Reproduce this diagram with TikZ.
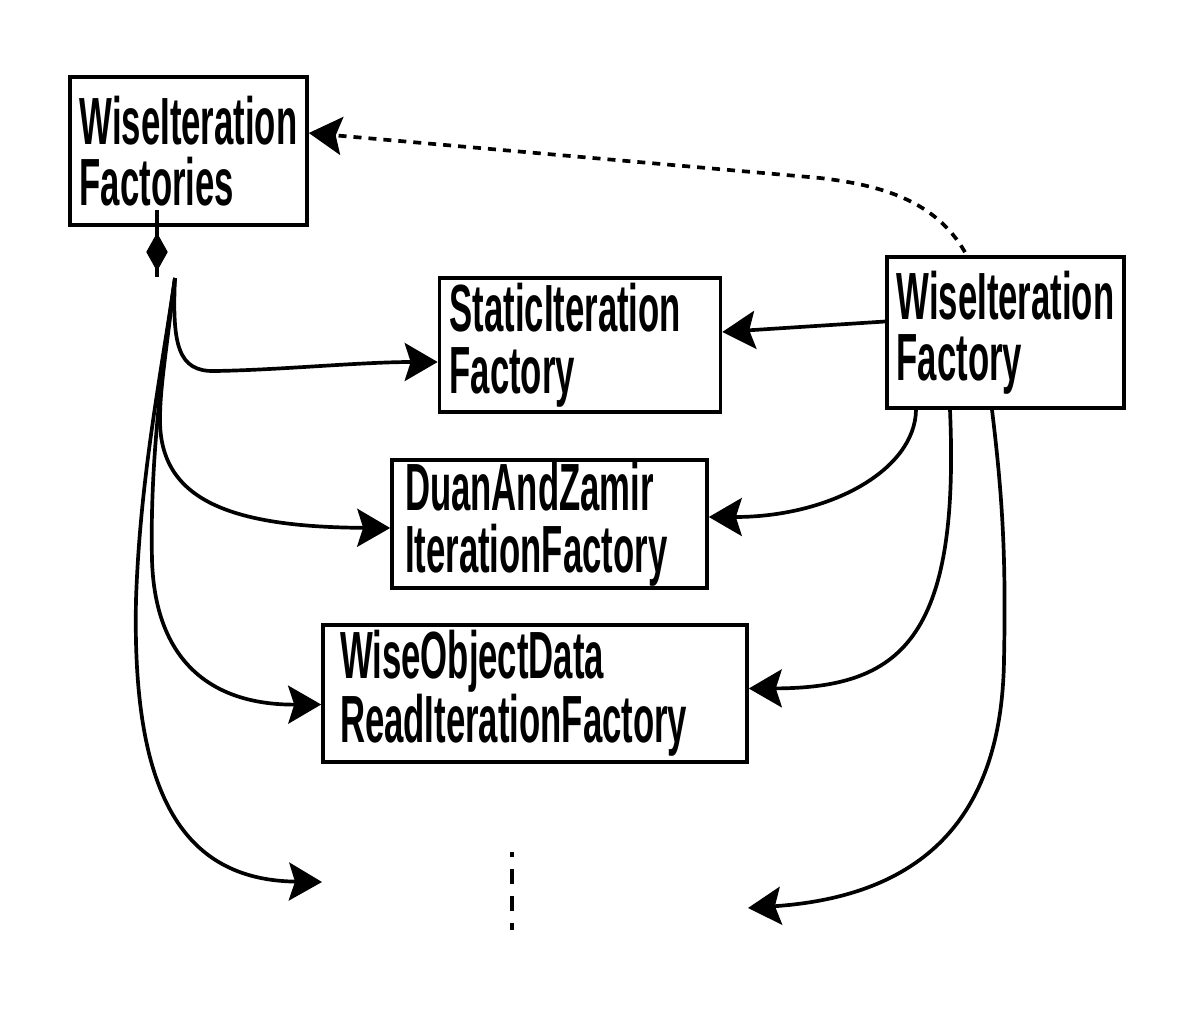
\documentclass[tikz,border=0pt]{standalone}
\usepackage{fontspec}
\usepackage{tikz}
\usetikzlibrary{shapes.geometric, arrows.meta, calc}
\newfontfamily\boxfont{Liberation Sans}[FakeStretch=0.52]

\begin{document}
\begin{tikzpicture}[
    x=0.02cm, y=-0.02cm,
    line width=2.1pt,
    classbox/.style={rectangle, draw=black, fill=white, align=left, inner sep=0pt, font=\boxfont\bfseries\fontsize{38pt}{35pt}\selectfont},
    agg/.style={diamond, fill=black, draw=none, inner sep=0pt, minimum width=0.46cm, minimum height=0.8cm},
    arrow/.style={-{Stealth[length=0.66cm, width=0.76cm, inset=0.12cm]}, line width=2.1pt},
    dotarrow/.style={arrow, dash pattern=on 0.16cm off 0.14cm},
    ellipsis/.style={line width=2.6pt, dash pattern=on 0.3cm off 0.24cm, dash phase=0.2cm}
]
    \useasboundingbox (0,0) rectangle (1194,1011);

    % Klassen
    \node[classbox, minimum width=4.74cm, minimum height=2.96cm] (factories) at (188.5,151) {WiseIteration\\Factories};
    \node[classbox, minimum width=5.62cm, minimum height=2.68cm, text width=5.22cm] (staticfac) at (580,345) {StaticIteration\\Factory};
    \node[classbox, minimum width=6.30cm, minimum height=2.56cm, text width=5.78cm] (duanfac) at (549.5,524) {DuanAndZamir\\IterationFactory};
    \node[classbox, minimum width=8.48cm, minimum height=2.74cm, text width=7.8cm] (wiseobjfac) at (535,693.5) {WiseObjectData\\ReadIterationFactory};
    \node[classbox, minimum width=4.74cm, minimum height=3.02cm] (wisefac) at (1005.5,332.5) {WiseIteration\\Factory};

    % Komposition
    \coordinate (aggtop) at ($(factories.south)+(-31.5,-17)$);
    \coordinate (aggbot) at (157,277);
    \draw (aggtop) -- (aggbot);
    \node[agg] (agg) at (157,252) {};
    \coordinate (split) at (175,278);
    \coordinate (leftend) at (322,882);
    \coordinate (rightend) at (748,908);

    \draw[arrow] (split) .. controls (172,345) and (178,372) .. (215,371) .. controls (280,370) and (360,362) .. ($(staticfac.west)+(0,17)$);
    \draw[arrow] (split) .. controls (165,360) and (160,390) .. (160,420) .. controls (160,500) and (230,527) .. ($(duanfac.west)+(0,4)$);
    \draw[arrow] (split) .. controls (160,380) and (150,470) .. (152,560) .. controls (155,660) and (210,705) .. ($(wiseobjfac.west)+(0,11)$);
    \draw[arrow] (split) .. controls (160,380) and (140,480) .. (136,600) .. controls (132,790) and (180,880) .. (leftend);

    % Erzeugung
    \draw[arrow] ($(wisefac.west)+(0,-11)$) -- ($(staticfac.east)+(0,-13)$);
    \draw[arrow] ($(wisefac.south)+(-89.5,0)$) .. controls (915,470) and (830,517) .. ($(duanfac.east)+(0,-7)$);
    \draw[arrow] ($(wisefac.south)+(-55.5,0)$) .. controls (960,640) and (900,688) .. ($(wiseobjfac.east)+(0,-5)$);
    \draw[arrow] ($(wisefac.south)+(-13.5,0)$) .. controls (1003,500) and (1006,560) .. (1004,660) .. controls (1002,800) and (940,895) .. (rightend);
    \draw[dotarrow] ($(wisefac.north)+(-40.5,-3)$) .. controls (935,200) and (880,185) .. (820,178) -- ($(factories.east)+(0,-18)$);

    % weitere
    \coordinate (dotstop) at (512,852);
    \coordinate (dotsbot) at (512,930);
    \draw[ellipsis] (dotstop) -- (dotsbot);
\end{tikzpicture}
\end{document}
